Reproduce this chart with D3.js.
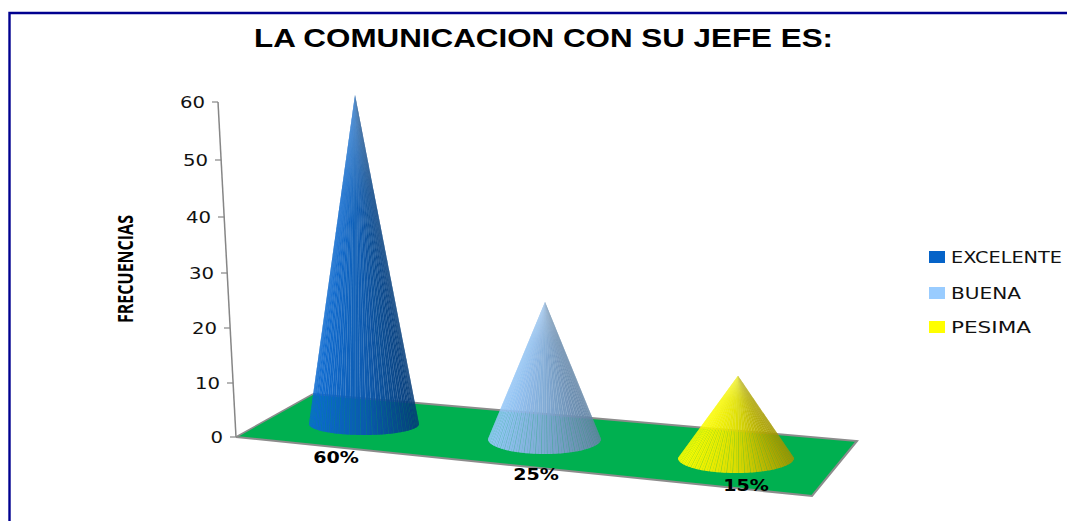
<!DOCTYPE html>
<html>
<head>
<meta charset="utf-8">
<style>
  html, body { margin: 0; padding: 0; background: #fff; }
  svg { display: block; }
</style>
<script src="https://cdn.jsdelivr.net/npm/d3@7/dist/d3.min.js"></script>
</head>
<body>
<svg id="chart" width="1067" height="521"></svg>
<script>
const categories = ["EXCELENTE", "BUENA", "PESIMA"];
const frequencies = [60, 25, 15];
const shares = ["60%", "25%", "15%"];
const yTicks = [0, 10, 20, 30, 40, 50, 60];
const swatches = ["#0563c8", "#99ccff", "#ffff00"];
const ramps = [
  ["#0b6ad2", "#0a5ab0", "#053c78"],
  ["#96c8fa", "#7fa9d4", "#6484a4"],
  ["#ffff00", "#dcdc00", "#a09400"]
];

const svg = d3.select("#chart");
const defs = svg.append("defs");
const wide = 1.23;

// Chart frame: only the top and left edges are visible
svg.append("path")
  .attr("d", d3.line()([[1067, 13], [9.5, 13], [9.5, 521]]))
  .attr("fill", "none").attr("stroke", "#00008f").attr("stroke-width", 2.4);

svg.append("text")
  .attr("x", 254).attr("y", 47)
  .attr("textLength", 579).attr("lengthAdjust", "spacingAndGlyphs")
  .attr("font-family", "Liberation Sans").attr("font-weight", 700)
  .attr("font-size", 26.5).attr("fill", "#000")
  .text("LA COMUNICACION CON SU JEFE ES:");

// The value axis is foreshortened, so both scales follow the receding line
const axisY = d3.scaleLinear().domain(yTicks).range([437, 383, 328, 273, 217, 160, 102]);
const axisX = d3.scaleLinear().domain([0, 60]).range([236, 218]);

// Floor of the 3D plot
const floor = [[236, 437], [812, 496], [857, 441], [313, 394]];
svg.append("polygon")
  .attr("points", floor.join(" "))
  .attr("fill", "#00b050");
svg.append("path")
  .attr("d", d3.line()([floor[3], floor[2], floor[1], floor[0]]))
  .attr("fill", "none").attr("stroke", "#8c8c8c").attr("stroke-width", 2);
svg.append("path")
  .attr("d", d3.line()([floor[3], floor[0]]))
  .attr("fill", "none").attr("stroke", "#8c8c8c").attr("stroke-width", 1.5);

// Value axis
svg.append("line")
  .attr("x1", axisX(0)).attr("y1", axisY(0))
  .attr("x2", axisX(60)).attr("y2", axisY(60))
  .attr("stroke", "#868686").attr("stroke-width", 1.5);

const tick = svg.append("g").selectAll("g").data(yTicks).join("g")
  .attr("transform", d => `translate(${axisX(d)},${axisY(d)})`);
tick.append("line")
  .attr("x1", -6).attr("x2", 0)
  .attr("stroke", "#868686").attr("stroke-width", 1.2);
tick.append("text")
  .attr("transform", `translate(-13,6) scale(${wide},1)`)
  .attr("text-anchor", "end")
  .attr("font-family", "DejaVu Sans").attr("font-size", 16).attr("fill", "#111")
  .text(d => d);

svg.append("text")
  .attr("transform", "translate(133,323) rotate(-90)")
  .attr("textLength", 108).attr("lengthAdjust", "spacingAndGlyphs")
  .attr("font-family", "Open Sans").attr("font-weight", 700)
  .attr("font-size", 21).attr("fill", "#000")
  .text("FRECUENCIAS");

// Cone placement along the floor; perspective shifts the apex off the base centre
const baseX = d3.scaleOrdinal().domain(categories).range([364, 544.5, 736]);
const apexX = d3.scaleOrdinal().domain(categories).range([355, 545, 738]);
const coneY = d3.scaleOrdinal().domain(categories).range([424, 439, 458]);
const coneRx = d3.scaleOrdinal().domain(categories).range([55, 56.5, 58]);
const coneRy = d3.scaleOrdinal().domain(categories).range([11, 15, 15]);
const coneH = d3.scaleLinear().domain([0, 60]).range([0, 329]);
const slatCount = 60;
const slatFill = 0.82;

const cones = svg.append("g").selectAll("g")
  .data(categories.map((name, i) => ({ name, value: frequencies[i], ramp: ramps[i], i })))
  .join("g");

cones.each(function (d) {
  const g = d3.select(this);
  const cx = baseX(d.name), cy = coneY(d.name);
  const rx = coneRx(d.name), ry = coneRy(d.name);
  const apex = [apexX(d.name), cy - coneH(d.value)];
  const rim = a => [cx + rx * Math.cos(a), cy + ry * Math.sin(a)];
  const shade = d3.scaleLinear().domain([0, 0.5, 1]).range(d.ramp).interpolate(d3.interpolateRgb);
  const leftToRight = a => (1 - Math.cos(a)) / 2;

  // Translucent body, visible through the gaps between the slats
  const rimAngles = d3.range(0, 41).map(k => Math.PI * k / 40);
  const gradId = `body${d.i}`;
  const grad = defs.append("linearGradient").attr("id", gradId);
  d3.range(0, 11).forEach(k => grad.append("stop")
    .attr("offset", k / 10).attr("stop-color", shade(k / 10)));
  g.append("polygon")
    .attr("points", [apex, ...rimAngles.map(rim)].join(" "))
    .attr("fill", `url(#${gradId})`).attr("opacity", 0.55);

  // Slats shaded by their angle around the cone; k runs from the left silhouette to the right
  const step = Math.PI / slatCount;
  g.selectAll("polygon.slat").data(d3.range(slatCount)).join("polygon")
    .attr("class", "slat")
    .attr("points", k => {
      const a0 = k * step;
      const a1 = a0 + step * (k % 2 ? 1 : slatFill);
      const from = Math.PI - a0, to = Math.PI - a1;
      return [apex, rim(from), rim((from + to) / 2), rim(to)].join(" ");
    })
    .attr("fill", k => shade(leftToRight((k + 0.5) * step)))
    .attr("fill-opacity", 0.97);

  // Paler sheen at the tip
  const tipId = `tip${d.i}`;
  const tipGrad = defs.append("linearGradient").attr("id", tipId)
    .attr("gradientUnits", "userSpaceOnUse")
    .attr("x1", 0).attr("x2", 0).attr("y1", apex[1]).attr("y2", apex[1] + coneH(d.value) * 0.3);
  tipGrad.append("stop").attr("offset", 0).attr("stop-color", "#fff").attr("stop-opacity", 0.2);
  tipGrad.append("stop").attr("offset", 1).attr("stop-color", "#fff").attr("stop-opacity", 0);
  g.append("polygon")
    .attr("points", [apex, ...rimAngles.map(rim)].join(" "))
    .attr("fill", `url(#${tipId})`);
});

// Share labels under each cone
const labelX = d3.scaleOrdinal().domain(categories).range([336, 536, 746]);
const labelY = d3.scaleOrdinal().domain(categories).range([463, 480, 491]);
svg.append("g").selectAll("text").data(categories).join("text")
  .attr("transform", d => `translate(${labelX(d)},${labelY(d)}) scale(${wide},1)`)
  .attr("text-anchor", "middle")
  .attr("font-family", "DejaVu Sans").attr("font-weight", 700)
  .attr("font-size", 15.5).attr("fill", "#000")
  .text((d, i) => shares[i]);

// Legend
const legendY = d3.scaleOrdinal().domain(categories).range([257, 293, 327]);
const legendW = d3.scaleOrdinal().domain(categories).range([111, 70, 80]);
const legend = svg.append("g").selectAll("g").data(categories).join("g")
  .attr("transform", d => `translate(929,${legendY(d)})`);
legend.append("rect")
  .attr("x", 0).attr("y", -6).attr("width", 16).attr("height", 12)
  .attr("fill", (d, i) => swatches[i]);
legend.append("text")
  .attr("x", 22).attr("y", 6)
  .attr("textLength", d => legendW(d)).attr("lengthAdjust", "spacingAndGlyphs")
  .attr("font-family", "DejaVu Sans").attr("font-size", 15.5).attr("fill", "#111")
  .text(d => d);
</script>
</body>
</html>
